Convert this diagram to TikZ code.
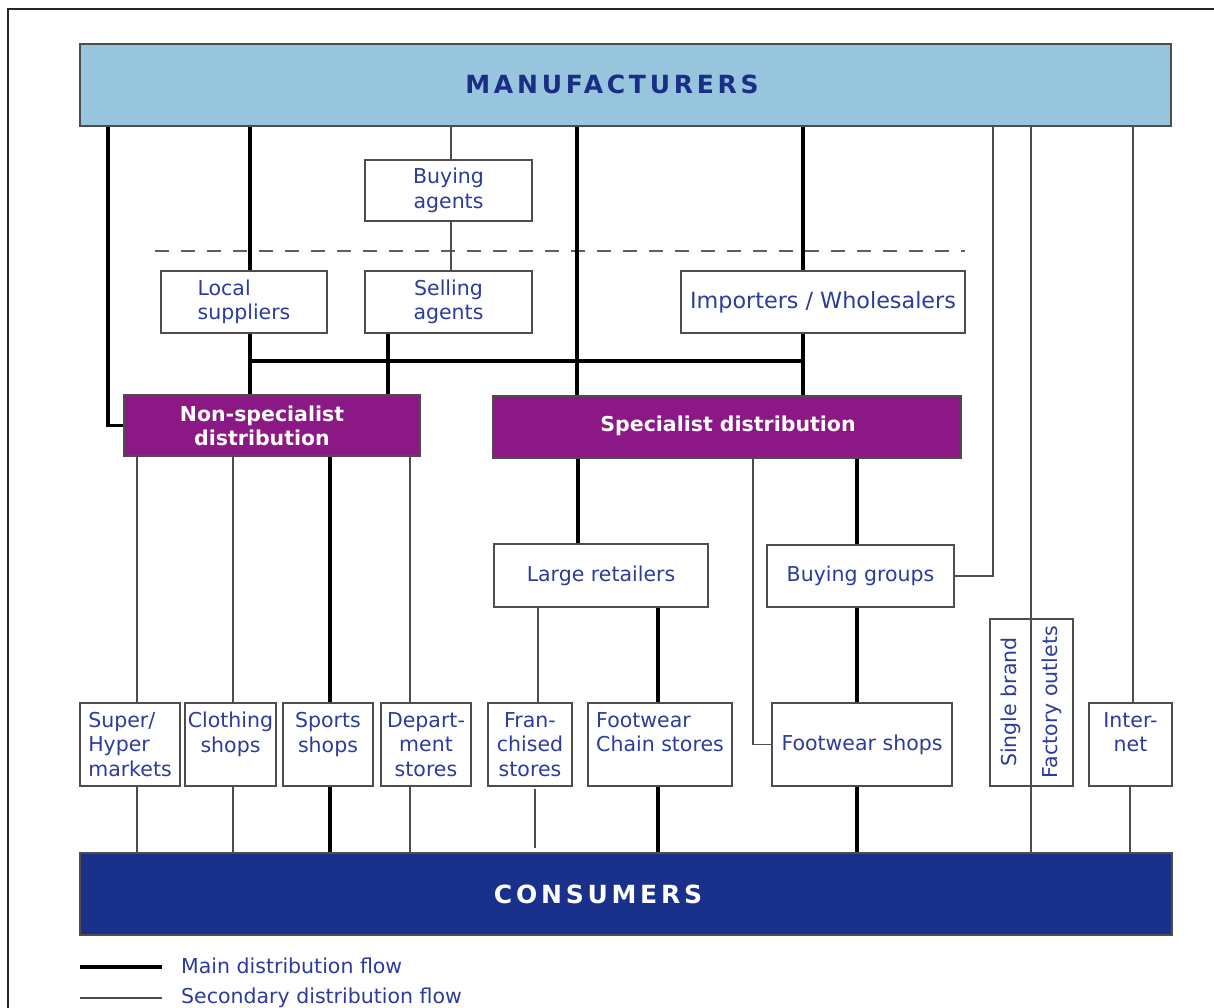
\documentclass[tikz,border=0pt]{standalone}
\usepackage{fontspec}
\setmainfont{DejaVu Sans}
\newfontfamily\spacedfont{DejaVu Sans}[LetterSpace=15]
\definecolor{txtblue}{HTML}{2B3C9C}
\definecolor{manublue}{HTML}{96C5DD}
\definecolor{manutext}{HTML}{1B2E85}
\definecolor{purp}{HTML}{8B1884}
\definecolor{consblue}{HTML}{1A318B}
\definecolor{edgegray}{HTML}{4D4D4D}
\tikzset{
  box/.style={draw=edgegray, line width=1.5pt, fill=white, inner sep=0pt, align=center,
    text=txtblue, font=\fontsize{20.5}{24.5}\selectfont},
  lbox/.style={box, align=left},
  bar/.style={draw=edgegray, line width=1.5pt, inner sep=0pt},
  distbox/.style={draw=edgegray, line width=1.5pt, fill=purp, inner sep=0pt},
  disttext/.style={text=white, font=\bfseries\fontsize{20.5}{24}\selectfont, align=center, inner sep=0pt},
  bigtext/.style={font=\spacedfont\bfseries\fontsize{25}{30}\selectfont, inner sep=0pt},
  vtext/.style={text=txtblue, font=\fontsize{20.5}{24.5}\selectfont, rotate=90, inner sep=0pt},
  legtext/.style={text=txtblue, font=\fontsize{20.5}{24.5}\selectfont, inner sep=0pt, anchor=base west},
  mainflow/.style={line width=3.6pt, black},
  secflow/.style={line width=1.4pt, edgegray},
  sepline/.style={line width=1.5pt, edgegray!90, dash pattern=on 14pt off 12pt}
}
\begin{document}
\begin{tikzpicture}[x=1pt,y=-1pt]
\clip (0,0) rectangle (1214,1008);
\fill[white] (0,0) rectangle (1214,1008);
\draw[line width=2pt, black!85] (8,9) rectangle (1400,1200);

% big bars
\node[bar, fill=manublue, minimum width=1091pt, minimum height=82pt] (manu) at (625.5,85) {};
\node[bigtext, text=manutext] (manutxt) at (612,84) {MANUFACTURERS};
\node[bar, fill=consblue, minimum width=1092pt, minimum height=82pt] (cons) at (626,894) {};
\node[bigtext, text=white] (constxt) at (598,894) {CONSUMERS};

% dashed separator
\coordinate (d1) at (155,251);
\coordinate (d2) at (965,251);
\draw[sepline] (d1) -- (d2);

% upper boxes
\node[box, minimum width=167pt, minimum height=61pt] (buy) at (448.5,190.5) {Buying\\agents};
\node[lbox, minimum width=166pt, minimum height=62pt] (local) at (244,302) {Local\\suppliers};
\node[box, minimum width=167pt, minimum height=62pt] (sell) at (448.5,302) {Selling\\agents};
\node[box, minimum width=284pt, minimum height=62pt, font=\fontsize{22.3}{24.5}\selectfont] (imp) at (823,302) {Importers / Wholesalers};

% distribution boxes
\node[distbox, minimum width=296pt, minimum height=61pt] (nonspec) at (272,425.5) {};
\node[disttext] (nonspectxt) at (262,426) {Non-specialist\\distribution};
\node[distbox, minimum width=468pt, minimum height=62pt] (spec) at (727,427) {};
\node[disttext] (spectxt) at (728,426) {Specialist distribution};

% middle boxes
\node[box, minimum width=214pt, minimum height=63pt] (large) at (601,575.5) {Large retailers};
\node[box, minimum width=187pt, minimum height=62pt] (bgroups) at (860.5,576) {Buying groups};

% bottom row
\node[lbox, minimum width=100pt, minimum height=83pt] (super) at (130,744.5) {Super/\\Hyper\\markets};
\node[box, minimum width=91pt, minimum height=83pt] (cloth) at (230.5,744.5) {Clothing\\shops\\\mbox{}};
\node[box, minimum width=90pt, minimum height=83pt] (sports) at (328,744.5) {Sports\\shops\\\mbox{}};
\node[box, minimum width=90pt, minimum height=83pt] (dept) at (426,744.5) {Depart-\\ment\\stores};
\node[box, minimum width=84pt, minimum height=83pt] (fran) at (530,744.5) {Fran-\\chised\\stores};
\node[lbox, minimum width=144pt, minimum height=83pt] (chain) at (660,744.5) {Footwear\\Chain stores\\\mbox{}};
\node[box, minimum width=180pt, minimum height=83pt] (fshops) at (862,744.5) {Footwear shops};
\node[box, minimum width=83pt, minimum height=167pt] (single) at (1031.5,702.5) {};
\node[vtext] (singletxt) at (1011,702) {Single brand};
\node[vtext] (factorytxt) at (1052,702) {Factory outlets};
\node[box, minimum width=83pt, minimum height=83pt] (inet) at (1130.5,744.5) {Inter-\\net\\\mbox{}};

% connectors from manufacturers
\draw[mainflow] (manu.south -| 108,0) |- (nonspec.west);
\draw[mainflow] (manu.south -| 250,0) -- (local.north -| 250,0);
\draw[secflow] (manu.south -| 451,0) -- (buy.north -| 451,0);
\draw[secflow] (buy.south -| 451,0) -- (sell.north -| 451,0);
\draw[mainflow] (manu.south -| 577,0) -- (spec.north -| 577,0);
\draw[mainflow] (manu.south -| 803,0) -- (imp.north -| 803,0);
\draw[mainflow] (imp.south -| 803,0) -- (spec.north -| 803,0);
\draw[secflow] (manu.south -| 993,0) |- (bgroups.east);
\draw[secflow] (manu.south -| 1031,0) -- (cons.north -| 1031,0);
\draw[secflow] (manu.south -| 1133,0) -- (inet.north -| 1133,0);

% collector
\coordinate (j1) at (250,361);
\coordinate (j2) at (803,361);
\draw[mainflow] (j1) -- (j2);
\draw[mainflow] (local.south -| 250,0) -- (nonspec.north -| 250,0);
\draw[mainflow] (sell.south -| 388,0) -- (nonspec.north -| 388,0);

% from non-specialist
\draw[secflow] (nonspec.south -| 137,0) -- (super.north -| 137,0);
\draw[secflow] (nonspec.south -| 233,0) -- (cloth.north -| 233,0);
\draw[mainflow] (nonspec.south -| 330,0) -- (sports.north -| 330,0);
\draw[secflow] (nonspec.south -| 410,0) -- (dept.north -| 410,0);

% from specialist
\draw[mainflow] (spec.south -| 578,0) -- (large.north -| 578,0);
\draw[secflow] (spec.south -| 753,0) |- (fshops.west);
\draw[mainflow] (spec.south -| 857,0) -- (bgroups.north -| 857,0);

% from large retailers / buying groups
\draw[secflow] (large.south -| 538,0) -- (fran.north -| 538,0);
\draw[mainflow] (large.south -| 658,0) -- (chain.north -| 658,0);
\draw[mainflow] (bgroups.south -| 857,0) -- (fshops.north -| 857,0);

% to consumers
\draw[secflow] (super.south -| 137,0) -- (cons.north -| 137,0);
\draw[secflow] (cloth.south -| 233,0) -- (cons.north -| 233,0);
\draw[mainflow] (sports.south -| 330,0) -- (cons.north -| 330,0);
\draw[secflow] (dept.south -| 410,0) -- (cons.north -| 410,0);
\coordinate (f1) at (535,789);
\coordinate (f2) at (535,848);
\draw[secflow] (f1) -- (f2);
\draw[mainflow] (chain.south -| 658,0) -- (cons.north -| 658,0);
\draw[mainflow] (fshops.south -| 857,0) -- (cons.north -| 857,0);
\draw[secflow] (inet.south -| 1130,0) -- (cons.north -| 1130,0);

% legend
\coordinate (l1a) at (80,967);
\coordinate (l1b) at (162,967);
\draw[mainflow] (l1a) -- (l1b);
\node[legtext] (leg1) at (181,973) {Main distribution flow};
\coordinate (l2a) at (80,998);
\coordinate (l2b) at (162,998);
\draw[secflow] (l2a) -- (l2b);
\node[legtext] (leg2) at (181,1003) {Secondary distribution flow};
\end{tikzpicture}
\end{document}
